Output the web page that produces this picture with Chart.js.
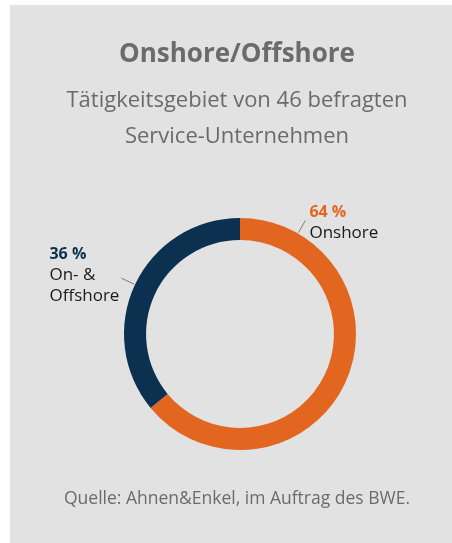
<!DOCTYPE html>
<html lang="de">
<head>
<meta charset="utf-8">
<title>Onshore/Offshore</title>
<script src="https://cdn.jsdelivr.net/npm/chart.js@4/dist/chart.umd.min.js"></script>
<style>
  html, body { margin: 0; padding: 0; background: #ffffff; }
  body { position: relative; width: 452px; height: 543px; overflow: hidden;
         font-family: "Open Sans", sans-serif; color: #6b6b6b; }
  #panel { position: absolute; left: 10px; top: 5px; right: 0; bottom: 0; background: #e1e2e1; }
  #chart { position: absolute; left: 0; top: 0; }
  .title { position: absolute; left: 22px; width: 430px; text-align: center; white-space: nowrap; }
  #t1 { top: 39px; font-size: 26px; line-height: 26px; font-weight: 700; }
  #t2 { top: 80px; font-size: 22px; line-height: 36px; }
  #src { top: 489px; font-size: 17.5px; line-height: 17px; }
</style>
</head>
<body>
<div id="panel"></div>
<canvas id="chart" width="452" height="543"></canvas>
<div class="title" id="t1">Onshore/Offshore</div>
<div class="title" id="t2">Tätigkeitsgebiet von 46 befragten<br>Service-Unternehmen</div>
<div class="title" id="src">Quelle: Ahnen&amp;Enkel, im Auftrag des BWE.</div>
<script>
// Tätigkeitsgebiet der befragten Unternehmen (Anteile in %)
const categories = ['Onshore', 'On- & Offshore'];
const labelLines = [['Onshore'], ['On- &', 'Offshore']];
const shares = [64, 36];
const colors = ['#e2661f', '#0b3050'];

// Position der Beschriftung entlang des Segments (0 = Anfang, 1 = Ende)
const anchorAt = [0.13, 0.5];

// Beschriftungen mit Führungslinien zeichnen
const sliceLabels = {
  id: 'sliceLabels',
  afterDatasetsDraw(chart) {
    const ctx = chart.ctx;
    const meta = chart.getDatasetMeta(0);
    meta.data.forEach((arc, i) => {
      const a = arc.startAngle + (arc.endAngle - arc.startAngle) * anchorAt[i];
      const cos = Math.cos(a), sin = Math.sin(a);
      const r0 = arc.outerRadius + 1;
      const r1 = arc.outerRadius + 15;
      const x0 = arc.x + cos * r0, y0 = arc.y + sin * r0;
      const x1 = arc.x + cos * r1, y1 = arc.y + sin * r1;

      ctx.save();
      ctx.strokeStyle = '#7a7a7a';
      ctx.lineWidth = 1;
      ctx.beginPath();
      ctx.moveTo(x0, y0);
      ctx.lineTo(x1, y1);
      ctx.stroke();

      ctx.textBaseline = 'alphabetic';
      ctx.textAlign = 'left';
      let tx, ty;
      if (cos >= 0) {
        tx = x1 + 4;
        ty = y1 - 3;
      } else {
        tx = x1 - 72;
        ty = y1 - 19;
      }
      ctx.fillStyle = colors[i];
      ctx.font = 'bold 16px "Open Sans"';
      ctx.fillText(shares[i] + ' %', tx, ty);
      ctx.fillStyle = '#1a1a1a';
      ctx.font = '17px "Open Sans"';
      labelLines[i].forEach((line, k) => {
        ctx.fillText(line, tx, ty + 21 + k * 21);
      });
      ctx.restore();
    });
  }
};

new Chart(document.getElementById('chart'), {
  type: 'doughnut',
  data: {
    labels: categories,
    datasets: [{
      data: shares,
      backgroundColor: colors,
      borderWidth: 0
    }]
  },
  options: {
    responsive: false,
    animation: false,
    cutout: '81%',
    layout: { padding: { left: 124, right: 96, top: 218, bottom: 93 } },
    plugins: {
      legend: { display: false },
      tooltip: { enabled: false }
    }
  },
  plugins: [sliceLabels]
});
</script>
</body>
</html>
